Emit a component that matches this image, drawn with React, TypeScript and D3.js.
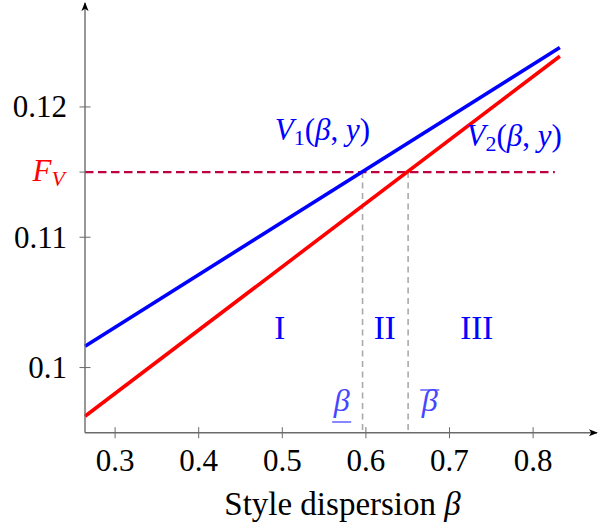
import React from "react";
import * as d3 from "d3";

const betaRange = [0.264, 0.832];
const v1Values = [0.10164, 0.12456];
const v2Values = [0.09626, 0.12389];
const fV = 0.115;
const betaLow = 0.596;
const betaHigh = 0.6505;
const xTicks = [0.3, 0.4, 0.5, 0.6, 0.7, 0.8];
const yTicks = [0.1, 0.11, 0.12];
const regions = [
  { label: "I", beta: 0.497 },
  { label: "II", beta: 0.6225 },
  { label: "III", beta: 0.7325 },
];

const W = 598;
const H = 527;
const FONT = "Liberation Serif";

export default function App() {
  const x = d3.scaleLinear().domain([0.264, 0.875]).range([85, 595.8]);
  const y = d3.scaleLinear().domain([0.095, 0.1279]).range([432.7, 4]);
  const line = d3
    .line<[number, number]>()
    .x((d) => x(d[0]))
    .y((d) => y(d[1]));
  const v1 = betaRange.map((b, i) => [b, v1Values[i]] as [number, number]);
  const v2 = betaRange.map((b, i) => [b, v2Values[i]] as [number, number]);
  const x0 = x(0.264);
  const y0 = y(0.095);
  const axisColor = "#6b6b6b";
  const fs = 31;
  const ts = { fontFamily: FONT };

  return (
    <svg
      width={W}
      height={H}
      style={{ position: "absolute", left: 0, top: 0, background: "#fff", fontFamily: FONT }}
    >
      <defs>
        <marker id="arr" viewBox="0 0 10 10" refX="9" refY="5" markerWidth="9" markerHeight="9" orient="auto" markerUnits="userSpaceOnUse">
          <path d="M0,1 L10,5 L0,9 L2.5,5 Z" fill="#000" />
        </marker>
      </defs>
      <line x1={x0} x2={x(0.826)} y1={y(fV)} y2={y(fV)} stroke="#bf0040" strokeWidth={2.2} strokeDasharray="8.5 4.5" />
      {[betaLow, betaHigh].map((b, i) => (
        <line key={i} x1={x(b)} x2={x(b)} y1={y(fV)} y2={y0} stroke="#aaaaaa" strokeWidth={1.6} strokeDasharray="6 4.5" />
      ))}
      <path d={line(v1) || ""} fill="none" stroke="#0000ff" strokeWidth={3.6} />
      <path d={line(v2) || ""} fill="none" stroke="#ff0000" strokeWidth={3.6} />
      <line x1={x0} x2={597} y1={y0} y2={y0} stroke={axisColor} strokeWidth={1.4} markerEnd="url(#arr)" />
      <line x1={x0} x2={x0} y1={y0} y2={3} stroke={axisColor} strokeWidth={1.4} markerEnd="url(#arr)" />
      {xTicks.map((t) => (
        <g key={t}>
          <line x1={x(t)} x2={x(t)} y1={y0 - 5.5} y2={y0 + 5.5} stroke={axisColor} strokeWidth={1} />
          <text x={x(t)} y={y0 + 38} textAnchor="middle" fontSize={fs} fill="#000" style={ts}>
            {t.toFixed(1)}
          </text>
        </g>
      ))}
      {yTicks.map((t) => (
        <g key={t}>
          <line x1={x0 - 5.5} x2={x0 + 5.5} y1={y(t)} y2={y(t)} stroke={axisColor} strokeWidth={1} />
          <text x={x0 - 18} y={y(t) + 10.5} textAnchor="end" fontSize={fs} fill="#000" style={ts}>
            {t === 0.1 ? "0.1" : t.toFixed(2)}
          </text>
        </g>
      ))}
      <line x1={x0 - 5.5} x2={x0} y1={y(fV)} y2={y(fV)} stroke={axisColor} strokeWidth={1} />
      <text x={x0 - 20} y={y(fV) + 8.5} textAnchor="end" fontSize={fs} fill="#ff0000" style={ts}>
        <tspan fontStyle="italic">F</tspan>
        <tspan fontStyle="italic" fontSize={22} dy={5}>V</tspan>
      </text>
      <text x={(222 + 463) / 2} y={515} textAnchor="middle" fontSize={33} fill="#000" style={ts}>
        Style dispersion <tspan fontStyle="italic">β</tspan>
      </text>
      <text x={x(0.491)} y={y(0.1175)} fontSize={fs} fill="#0000ff" style={ts}>
        <tspan fontStyle="italic">V</tspan>
        <tspan fontSize={22} dy={5}>1</tspan>
        <tspan dy={-5}>(</tspan>
        <tspan fontStyle="italic">β</tspan>
        <tspan>, </tspan>
        <tspan fontStyle="italic">y</tspan>
        <tspan>)</tspan>
      </text>
      <text x={x(0.7204)} y={y(0.117)} fontSize={fs} fill="#0000ff" style={ts}>
        <tspan fontStyle="italic">V</tspan>
        <tspan fontSize={22} dy={5}>2</tspan>
        <tspan dy={-5}>(</tspan>
        <tspan fontStyle="italic">β</tspan>
        <tspan>, </tspan>
        <tspan fontStyle="italic">y</tspan>
        <tspan>)</tspan>
      </text>
      {regions.map((r) => (
        <text key={r.label} x={x(r.beta)} y={y(0.10219)} textAnchor="middle" fontSize={33} fill="#0000ff" style={ts}>
          {r.label}
        </text>
      ))}
      <text x={x(0.571)} y={411} textAnchor="middle" fontSize={32} fontStyle="italic" fill="#4646ff" style={ts}>β</text>
      <line x1={x(0.571) - 9.5} x2={x(0.571) + 9.5} y1={422} y2={422} stroke="#4646ff" strokeWidth={1.3} />
      <text x={x(0.6764)} y={411} textAnchor="middle" fontSize={32} fontStyle="italic" fill="#4646ff" style={ts}>β</text>
      <line x1={x(0.6764) - 9.5} x2={x(0.6764) + 9.5} y1={390} y2={390} stroke="#4646ff" strokeWidth={1.3} />
    </svg>
  );
}
